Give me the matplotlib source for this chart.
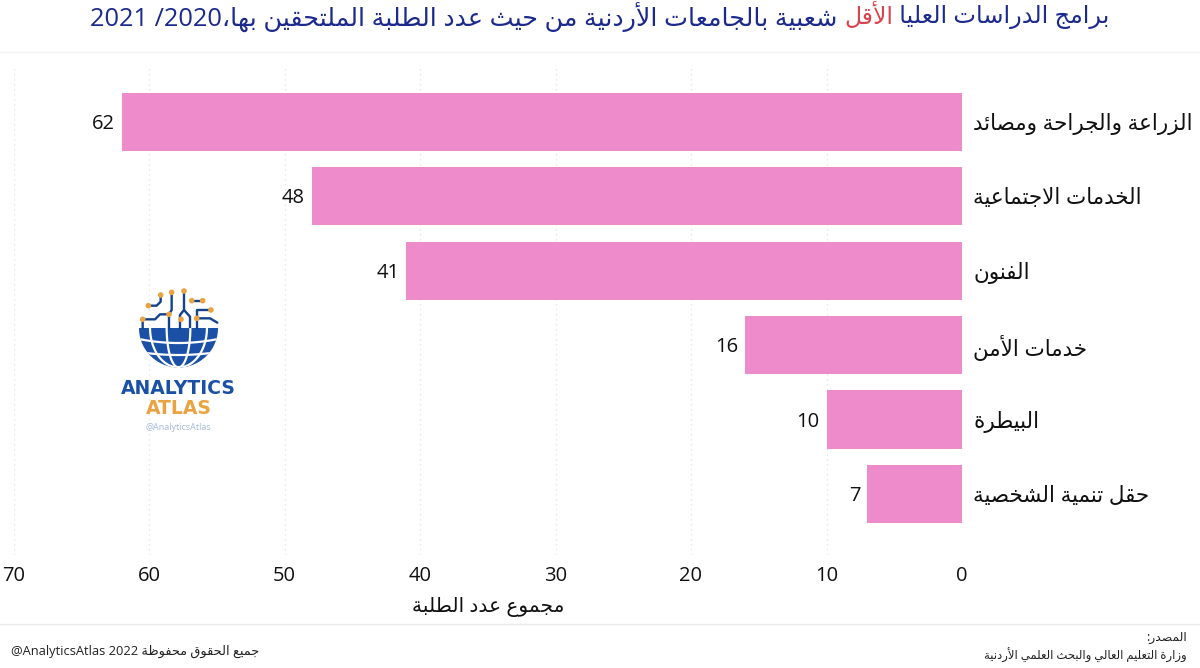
import re
import numpy as np
import matplotlib
matplotlib.use("Agg")
import matplotlib.pyplot as plt
from matplotlib.patches import Polygon, Circle

# ---- data ----
categories = ["الزراعة والجراحة ومصائد", "الخدمات الاجتماعية", "الفنون",
              "خدمات الأمن", "البيطرة", "حقل تنمية الشخصية"]
values = [62, 48, 41, 16, 10, 7]
x_ticks = [0, 10, 20, 30, 40, 50, 60, 70]
title_right = "برامج الدراسات العليا "
title_red = "الأقل"
title_left = " شعبية بالجامعات الأردنية من حيث عدد الطلبة الملتحقين بها،2020/ 2021"
x_label = "مجموع عدد الطلبة"
footer_left = "جميع الحقوق محفوظة 2022 @AnalyticsAtlas"
source_1 = "المصدر:"
source_2 = "وزارة التعليم العالي والبحث العلمي الأردنية"

# ---- Arabic shaping: matplotlib does not join letters or order RTL text ----
F4 = {'ئ':0xFE89,'ب':0xFE8F,'ت':0xFE95,'ث':0xFE99,'ج':0xFE9D,'ح':0xFEA1,'خ':0xFEA5,
      'س':0xFEB1,'ش':0xFEB5,'ص':0xFEB9,'ض':0xFEBD,'ط':0xFEC1,'ظ':0xFEC5,'ع':0xFEC9,
      'غ':0xFECD,'ف':0xFED1,'ق':0xFED5,'ك':0xFED9,'ل':0xFEDD,'م':0xFEE1,'ن':0xFEE5,
      'ه':0xFEE9,'ي':0xFEF1}
F2 = {'آ':0xFE81,'أ':0xFE83,'ؤ':0xFE85,'إ':0xFE87,'ا':0xFE8D,'ة':0xFE93,'د':0xFEA9,
      'ذ':0xFEAB,'ر':0xFEAD,'ز':0xFEAF,'و':0xFEED,'ى':0xFEEF}
LAM_ALEF = {'ا':0xFEFB,'أ':0xFEF7,'إ':0xFEF9,'آ':0xFEF5}

def shape(run):
    out, i, n = [], 0, len(run)
    prev_joins = False
    while i < n:
        c = run[i]
        if c == 'ل' and i + 1 < n and run[i + 1] in LAM_ALEF:
            out.append(chr(LAM_ALEF[run[i + 1]] + (1 if prev_joins else 0)))
            prev_joins = False
            i += 2
            continue
        nxt = i + 1 < n and (run[i + 1] in F4 or run[i + 1] in F2)
        if c in F4:
            k = (1 if prev_joins else 0) if not nxt else (3 if prev_joins else 2)
            out.append(chr(F4[c] + k))
            prev_joins = True
        elif c in F2:
            out.append(chr(F2[c] + (1 if prev_joins else 0)))
            prev_joins = False
        else:
            out.append(c)
            prev_joins = False
        i += 1
    return ''.join(out)

def ar(s):
    parts = re.split(r'([0-9A-Za-z@]+)', s)
    vis = [p if re.fullmatch(r'[0-9A-Za-z@]+', p) else shape(p)[::-1] for p in parts if p]
    return ''.join(reversed(vis))

FONT = ['Open Sans', 'DejaVu Sans']
plt.rcParams['font.family'] = FONT
W, H = 1200, 668
fig = plt.figure(figsize=(W / 100, H / 100), dpi=100, facecolor='white')

# ---- chart ----
ax = fig.add_axes([13.5 / W, 1 - 555 / H, (962 - 13.5) / W, (555 - 68) / H])
ypos = np.arange(len(values))
ax.barh(ypos, values, height=0.78, color='#EE8CCB', zorder=2)
ax.set_xlim(70, 0)
ax.set_ylim(5.82, -0.72)
ax.set_xticks(x_ticks)
ax.set_xticklabels([str(t) for t in x_ticks], fontsize=14.5, color='#111111')
ax.yaxis.tick_right()
ax.set_yticks(ypos)
ax.set_yticklabels([ar(c) for c in categories], fontsize=15.5, color='#111111')
ax.tick_params(axis='both', length=0)
ax.tick_params(axis='x', pad=8)
ax.tick_params(axis='y', pad=8)
ax.xaxis.grid(True, color='#E2E2E2', linestyle=(0, (1, 3)), linewidth=0.9, zorder=0)
ax.set_axisbelow(True)
for s in ax.spines.values():
    s.set_visible(False)
ax.set_xlabel(ar(x_label), fontsize=14.5, color='#111111', labelpad=8)
for y, v in zip(ypos, values):
    ax.annotate(str(v), (v, y), xytext=(-5, -1.5), textcoords='offset points',
                ha='right', va='center', fontsize=14.5, color='#111111')

# ---- page overlay in pixel coordinates ----
ov = fig.add_axes([0, 0, 1, 1], zorder=5)
ov.set_xlim(0, W)
ov.set_ylim(H, 0)
ov.axis('off')
ov.patch.set_alpha(0)
ov.plot([0, W], [52, 52], color='#F3F3F3', lw=1)
ov.plot([0, W], [624, 624], color='#E8E8E8', lw=1)

# title in three coloured pieces, each fitted to a span close to the reference
NAVY, RED = '#1B2A8C', '#D9434E'
pieces = [(ar(title_right), NAVY, 1110, 893), (ar(title_red), RED, 893, 844), (ar(title_left), NAVY, 844, 90)]
fig.canvas.draw()
rend = fig.canvas.get_renderer()
for txt, col, x1, x0 in pieces:
    t = ov.text(x0, 17, txt.replace(' ', '\u00a0'), color=col, fontsize=20, ha='left', va='center')
    w = t.get_window_extent(rend).width
    t.set_fontsize(20 * (x1 - x0) / w)

# footer
ov.text(11, 651, ar(footer_left), fontsize=9.3, color='#222222', ha='left', va='center')
ov.text(1187, 637, ar(source_1), fontsize=8.9, color='#222222', ha='right', va='center')
ov.text(1187, 655, ar(source_2), fontsize=8.4, color='#222222', ha='right', va='center')

# logo
BLUE, ORANGE = '#1A50A5', '#E9A441'
def z(p):
    return 100 + p[0] / 3, 280 + p[1] / 3
cx, cy, R = 178.5, 328.0, 39.5
th = np.linspace(0, np.pi, 80)
disk = Polygon(np.c_[cx + R * np.cos(th), cy + R * np.sin(th)], closed=True, fc=BLUE, ec='none', zorder=3)
ov.add_patch(disk)
yy = np.linspace(cy, cy + R, 40)
for f in (-0.72, -0.3, 0.3, 0.72):
    ln, = ov.plot(cx + f * R * np.sqrt(1 - ((yy - cy) / R) ** 2), yy, color='white', lw=1.6, zorder=4)
    ln.set_clip_path(disk)
xx = np.linspace(cx - R, cx + R, 60)
for y0, sag in ((343, 4), (355, 3)):
    ln, = ov.plot(xx, y0 + sag * (1 - ((xx - cx) / R) ** 2) - sag, color='white', lw=1.6, zorder=4)
    ln.set_clip_path(disk)
circuits = [
    [(128, 145), (128, 118), (165, 118), (180, 103), (207, 103), (207, 145)],
    [(145, 77), (170, 77), (182, 65), (182, 45)],
    [(207, 103), (215, 90), (215, 37)],
    [(252, 33), (252, 90), (240, 105), (240, 145)],
    [(252, 90), (270, 110), (270, 145)],
    [(275, 62), (308, 62)],
    [(290, 145), (290, 90), (333, 90)],
    [(290, 115), (330, 115), (352, 128)],
]
for c in circuits:
    pts = np.array([z(p) for p in c])
    ov.plot(pts[:, 0], pts[:, 1], color='#14418C', lw=1.7, zorder=3, solid_capstyle='round')
for p in [(128, 118), (207, 103), (145, 77), (182, 45), (215, 37), (252, 33), (243, 118),
          (275, 62), (308, 62), (290, 115), (333, 90)]:
    ov.add_patch(Circle(z(p), 2.8, fc=ORANGE, ec='none', zorder=4))
ov.text(178.5, 389, 'ANALYTICS', family='DejaVu Sans', fontsize=13.5, fontweight='bold', color=BLUE, ha='center', va='center')
ov.text(178.5, 409, 'ATLAS', family='DejaVu Sans', fontsize=13.5, fontweight='bold', color=ORANGE, ha='center', va='center')
ov.text(178.5, 428, '@AnalyticsAtlas', family='Open Sans', fontsize=6.5, color='#A4B8DC', ha='center', va='center')

fig.savefig('out.png', dpi=100, facecolor='white')
